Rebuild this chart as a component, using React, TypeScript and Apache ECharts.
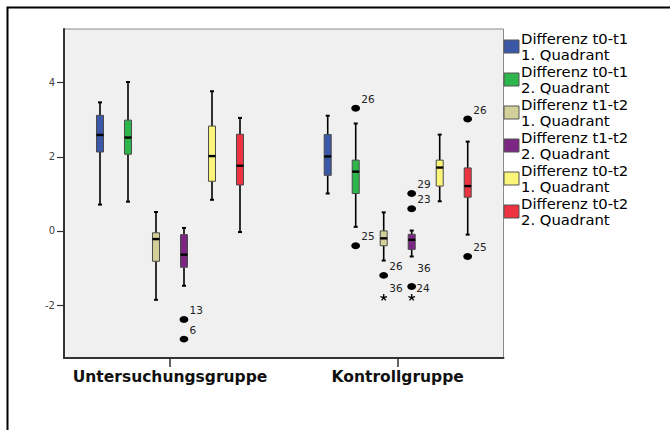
import React, { useEffect, useRef } from "react";
import * as echarts from "echarts";

// ---- data ----
const groups = ["Untersuchungsgruppe", "Kontrollgruppe"];
const seriesNames = [
  "Differenz t0-t1\n1. Quadrant",
  "Differenz t0-t1\n2. Quadrant",
  "Differenz t1-t2\n1. Quadrant",
  "Differenz t1-t2\n2. Quadrant",
  "Differenz t0-t2\n1. Quadrant",
  "Differenz t0-t2\n2. Quadrant",
];
const seriesColors = ["#3b57a8", "#2db64b", "#d3cf99", "#7a2682", "#fbf67a", "#ee3340"];

// [min, q1, median, q3, max] per group (Untersuchungsgruppe, Kontrollgruppe)
const diffT0T1Q1 = [[0.71, 2.13, 2.59, 3.12, 3.47], [1.01, 1.5, 2.01, 2.6, 3.11]];
const diffT0T1Q2 = [[0.79, 2.07, 2.52, 2.99, 4.02], [0.11, 1.01, 1.6, 1.91, 2.9]];
const diffT1T2Q1 = [[-1.86, -0.82, -0.22, -0.05, 0.51], [-0.8, -0.4, -0.2, 0.0, 0.5]];
const diffT1T2Q2 = [[-1.48, -0.98, -0.64, -0.1, 0.08], [-0.69, -0.5, -0.24, -0.09, 0.01]];
const diffT0T2Q1 = [[0.84, 1.34, 2.02, 2.83, 3.77], [0.8, 1.21, 1.71, 1.91, 2.6]];
const diffT0T2Q2 = [[-0.03, 1.24, 1.76, 2.61, 3.05], [-0.1, 0.91, 1.21, 1.7, 2.41]];
const boxStats = [diffT0T1Q1, diffT0T1Q2, diffT1T2Q1, diffT1T2Q2, diffT0T2Q1, diffT0T2Q2];

// outliers: [group (1/2), series index, value]
const outlierPoints = [
  [1, 3, -2.39],
  [1, 3, -2.92],
  [2, 1, 3.31],
  [2, 1, -0.4],
  [2, 2, -1.2],
  [2, 2, -1.8],
  [2, 3, 1.01],
  [2, 3, 0.6],
  [2, 3, -1.5],
  [2, 3, -1.8],
  [2, 5, 3.02],
  [2, 5, -0.69],
];
const outlierCases = ["13", "6", "26", "25", "26", "36", "29", "23", "24", "36", "26", "25"];
const outlierKinds = ["o", "o", "o", "o", "o", "*", "o", "o", "o", "*", "o", "o"];

const yTicks = [-2, 0, 2, 4];
const xTicks = [1, 2];

// ---- styling ----
const STEP = 28;
const BOX_W = 7;
const CAP_W = 4;
const FONT = "'DejaVu Sans', Verdana, sans-serif";
const labelOffsetOverride: Record<number, [number, number]> = {
  8: [4.5, 2],
  9: [5.5, -29.5],
};

export default function App() {
  const ref = useRef<HTMLDivElement>(null);

  useEffect(() => {
    document.body.style.margin = "0";
    const chart = echarts.init(ref.current!, null, { renderer: "svg" });

    const boxSeries = boxStats.map((stats, k) => ({
      type: "custom",
      name: seriesNames[k],
      itemStyle: { color: seriesColors[k] },
      encode: { x: 0, y: [1, 2, 3, 4, 5] },
      data: stats.map((s, g) => [g + 1, ...s]),
      renderItem: (params: any, api: any) => {
        const g = api.value(0);
        const cx = api.coord([g, api.value(3)])[0] + (k - 2.5) * STEP;
        const y = (v: number) => api.coord([g, v])[1];
        const yMin = y(api.value(1));
        const yQ1 = y(api.value(2));
        const yMed = y(api.value(3));
        const yQ3 = y(api.value(4));
        const yMax = y(api.value(5));
        const lineStyle = { stroke: "#000", lineWidth: 1.6 };
        return {
          type: "group",
          children: [
            { type: "line", shape: { x1: cx, y1: yMax, x2: cx, y2: yQ3 }, style: lineStyle },
            { type: "line", shape: { x1: cx, y1: yQ1, x2: cx, y2: yMin }, style: lineStyle },
            { type: "line", shape: { x1: cx - CAP_W / 2, y1: yMax, x2: cx + CAP_W / 2, y2: yMax }, style: { stroke: "#000", lineWidth: 2 } },
            { type: "line", shape: { x1: cx - CAP_W / 2, y1: yMin, x2: cx + CAP_W / 2, y2: yMin }, style: { stroke: "#000", lineWidth: 2 } },
            {
              type: "rect",
              shape: { x: cx - BOX_W / 2, y: yQ3, width: BOX_W, height: yQ1 - yQ3 },
              style: { fill: seriesColors[k], stroke: "#4a4a4a", lineWidth: 1 },
            },
            { type: "line", shape: { x1: cx - BOX_W / 2, y1: yMed, x2: cx + BOX_W / 2, y2: yMed }, style: { stroke: "#000", lineWidth: 2.4 } },
          ],
        };
      },
    }));

    const outlierSeries = {
      type: "custom",
      name: "outliers",
      encode: { x: 0, y: 2 },
      data: outlierPoints,
      renderItem: (params: any, api: any) => {
        const i = params.dataIndex;
        const g = api.value(0);
        const k = api.value(1);
        const p = api.coord([g, api.value(2)]);
        const cx = p[0] + (k - 2.5) * STEP;
        const cy = p[1];
        const off = labelOffsetOverride[i] || [5.5, -9.5];
        const marker =
          outlierKinds[i] === "*"
            ? {
                type: "path",
                x: cx,
                y: cy,
                shape: {
                  pathData:
                    "M0,0L0,-3.5M0,0L3.3,-1.1M0,0L2.1,2.8M0,0L-2.1,2.8M0,0L-3.3,-1.1",
                },
                style: { stroke: "#000", lineWidth: 1.3, fill: "none" },
              }
            : {
                type: "circle",
                x: cx,
                y: cy,
                scaleY: 0.78,
                shape: { cx: 0, cy: 0, r: 4.4 },
                style: { fill: "#000" },
              };
        return {
          type: "group",
          children: [
            marker,
            {
              type: "text",
              x: cx + off[0],
              y: cy + off[1],
              style: {
                text: outlierCases[i],
                fill: "#222",
                fontSize: 10.5,
                fontFamily: FONT,
                align: "left",
                verticalAlign: "middle",
              },
            },
          ],
        };
      },
    };

    chart.setOption({
      animation: false,
      backgroundColor: "#fff",
      graphic: [
        {
          type: "rect",
          shape: { x: 7.5, y: 7.5, width: 720, height: 520 },
          style: { fill: "none", stroke: "#000", lineWidth: 2 },
          z: 100,
        },
      ],
      grid: {
        left: 64,
        top: 29,
        right: 166.5,
        bottom: 72,
        show: true,
        backgroundColor: "#f0f0f0",
        borderColor: "#8a8a8a",
        borderWidth: 1,
      },
      legend: {
        left: 503.5,
        top: 31,
        orient: "vertical",
        padding: 0,
        itemGap: 2,
        itemWidth: 15,
        itemHeight: 13,
        selectedMode: false,
        data: seriesNames.map((n, k) => ({
          name: n,
          icon: "rect",
          itemStyle: { color: seriesColors[k], borderColor: "#555", borderWidth: 1 },
        })),
        textStyle: {
          fontFamily: FONT,
          fontSize: 14.8,
          lineHeight: 15.5,
          color: "#000",
          padding: [0, 0, 0, -3],
        },
      },
      xAxis: {
        type: "value",
        min: 0.5345,
        max: 2.4646,
        splitLine: { show: false },
        axisLine: { show: true, onZero: false, lineStyle: { color: "#333", width: 2 } },
        axisTick: { show: true, customValues: xTicks, length: 9, lineStyle: { color: "#333", width: 1.5 } },
        axisLabel: {
          customValues: xTicks,
          formatter: (v: number) => groups[Math.round(v) - 1] || "",
          fontFamily: FONT,
          fontWeight: "bold",
          fontSize: 15.5,
          color: "#111",
          margin: 11,
        },
      },
      yAxis: {
        type: "value",
        min: -3.43,
        max: 5.45,
        splitLine: { show: false },
        axisLine: { show: true, onZero: false, lineStyle: { color: "#333", width: 2 } },
        axisTick: { show: true, customValues: yTicks, length: 7, lineStyle: { color: "#333", width: 1.2 } },
        axisLabel: {
          customValues: yTicks,
          fontFamily: FONT,
          fontSize: 10,
          color: "#444",
          margin: 9,
        },
      },
      series: [...boxSeries, outlierSeries],
    });

    return () => chart.dispose();
  }, []);

  return <div ref={ref} style={{ width: 670, height: 430 }} />;
}
